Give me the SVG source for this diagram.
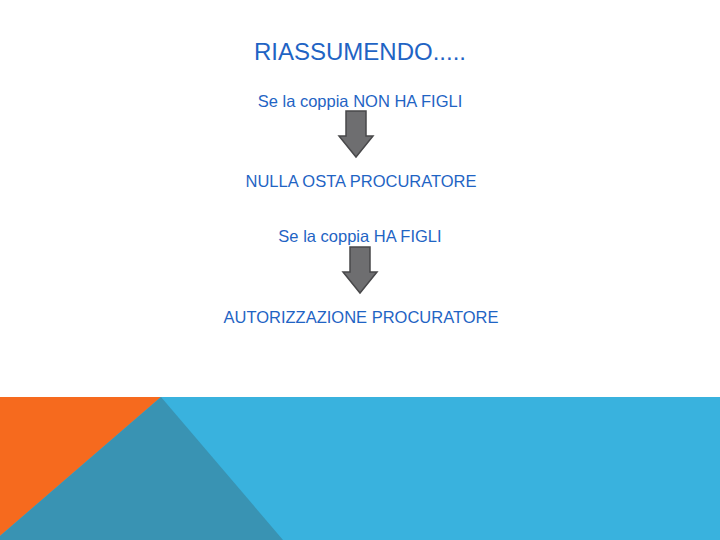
<svg xmlns="http://www.w3.org/2000/svg" width="720" height="540" viewBox="0 0 720 540">
<style>
.t{font-family:"Liberation Sans",Arial,sans-serif;fill:#1F64C4;text-anchor:middle}
.s{font-size:16.5px}
.arrow{fill:#6E6E70;stroke:#48484A;stroke-width:1.5}
</style>
<defs>
<path id="arr" d="M-10,0 H10 V25 H17 L0,46 L-17,25 H-10 Z"/>
</defs>
<rect width="720" height="540" fill="#fff"/>
<g id="background">
<rect x="0" y="397" width="720" height="143" fill="#39B2DE"/>
<polygon points="0,397 161,397 0,536" fill="#F66A1E"/>
<polygon points="161,397 283,540 0,540 0,536" fill="#3993B3"/>
</g>
<g id="title"><text class="t" x="360" y="60" font-size="24">RIASSUMENDO.....</text></g>
<g id="node1"><text class="t s" x="360" y="107">Se la coppia NON HA FIGLI</text></g>
<g id="node2"><text class="t s" x="361" y="187">NULLA OSTA PROCURATORE</text></g>
<g id="node3"><text class="t s" x="360" y="242">Se la coppia HA FIGLI</text></g>
<g id="node4"><text class="t s" x="361" y="323">AUTORIZZAZIONE PROCURATORE</text></g>
<g id="connectors">
<use href="#arr" class="arrow" x="356" y="111"/>
<use href="#arr" class="arrow" x="360" y="247"/>
</g>
</svg>
